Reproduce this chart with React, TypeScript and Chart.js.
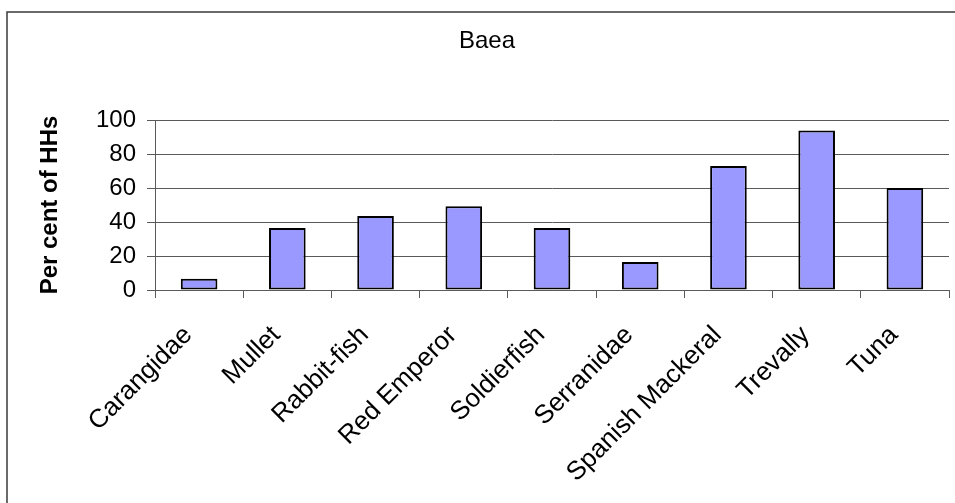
import React, { useEffect, useRef } from "react";
import { Chart, registerables } from "chart.js";

Chart.register(...registerables);

// Species caught and share of households reporting each one
const categories = [
  "Carangidae",
  "Mullet",
  "Rabbit-fish",
  "Red Emperor",
  "Soldierfish",
  "Serranidae",
  "Spanish Mackeral",
  "Trevally",
  "Tuna",
];
const percentOfHHs = [6.6, 36.5, 43.5, 49.2, 36.4, 16.4, 72.9, 93.8, 60.0];

const yTicks = [0, 20, 40, 60, 80, 100];

const chartTitle = "Baea";
const yAxisTitle = "Per cent of HHs";

const FONT = "'Liberation Sans', Arial, Helvetica, sans-serif";
const W = 955;
const H = 503;
const LINE = "#5a5a5a";

// Thin frame around the chart plus the centred heading
const framePlugin = {
  id: "frameAndHeading",
  beforeDraw(chart: any) {
    const ctx = chart.ctx;
    ctx.save();
    ctx.fillStyle = "#ffffff";
    ctx.fillRect(0, 0, chart.width, chart.height);
    ctx.strokeStyle = "#3a3a3a";
    ctx.lineWidth = 1.5;
    ctx.beginPath();
    ctx.moveTo(7, chart.height + 2);
    ctx.lineTo(7, 12);
    ctx.lineTo(chart.width + 2, 12);
    ctx.stroke();
    ctx.restore();
  },
  afterDraw(chart: any) {
    const ctx = chart.ctx;
    ctx.save();
    ctx.fillStyle = "#000000";
    ctx.font = `24px ${FONT}`;
    ctx.textAlign = "center";
    ctx.textBaseline = "middle";
    ctx.fillText(chartTitle, 487, 41);
    ctx.restore();
  },
};

export default function App() {
  const canvasRef = useRef<HTMLCanvasElement | null>(null);

  useEffect(() => {
    const canvas = canvasRef.current;
    if (!canvas) return;

    const chart = new Chart(canvas, {
      type: "bar",
      data: {
        labels: categories,
        datasets: [
          {
            label: yAxisTitle,
            data: percentOfHHs,
            backgroundColor: "#9999FF",
            borderColor: "#000000",
            borderWidth: 2,
            borderSkipped: false,
            barPercentage: 0.415,
            categoryPercentage: 1.0,
          },
        ],
      },
      options: {
        responsive: false,
        animation: false,
        devicePixelRatio: 1,
        layout: { padding: { top: 120, right: 6, bottom: 0, left: 0 } },
        plugins: {
          legend: { display: false },
          title: { display: false },
          tooltip: { enabled: false },
        },
        scales: {
          x: {
            grid: {
              offset: true,
              drawOnChartArea: false,
              drawTicks: true,
              tickLength: 8,
              color: LINE,
              lineWidth: 1,
            },
            border: { color: LINE, width: 1 },
            ticks: {
              autoSkip: false,
              minRotation: 45,
              maxRotation: 45,
              padding: 22,
              labelOffset: -11,
              color: "#000000",
              font: { family: FONT, size: 26 },
            },
            afterFit: (scale: any) => {
              scale.height = 213;
            },
          },
          y: {
            min: 0,
            max: 100,
            afterBuildTicks: (scale: any) => {
              scale.ticks = yTicks.map((v) => ({ value: v }));
            },
            grid: {
              color: LINE,
              lineWidth: 1,
              tickLength: 8,
            },
            border: { color: LINE, width: 1 },
            ticks: {
              padding: 11,
              color: "#000000",
              font: { family: FONT, size: 24 },
            },
            title: {
              display: true,
              text: yAxisTitle,
              color: "#000000",
              font: { family: FONT, size: 24, weight: "bold" },
              padding: { top: 35.6, bottom: 0 },
            },
            afterFit: (scale: any) => {
              scale.width = 155;
            },
          },
        },
      },
      plugins: [framePlugin],
    });

    return () => {
      chart.destroy();
    };
  }, []);

  return (
    <div style={{ position: "fixed", left: 0, top: 0, width: W, height: H, background: "#fff" }}>
      <canvas ref={canvasRef} width={W} height={H} style={{ display: "block", width: W, height: H }} />
    </div>
  );
}
